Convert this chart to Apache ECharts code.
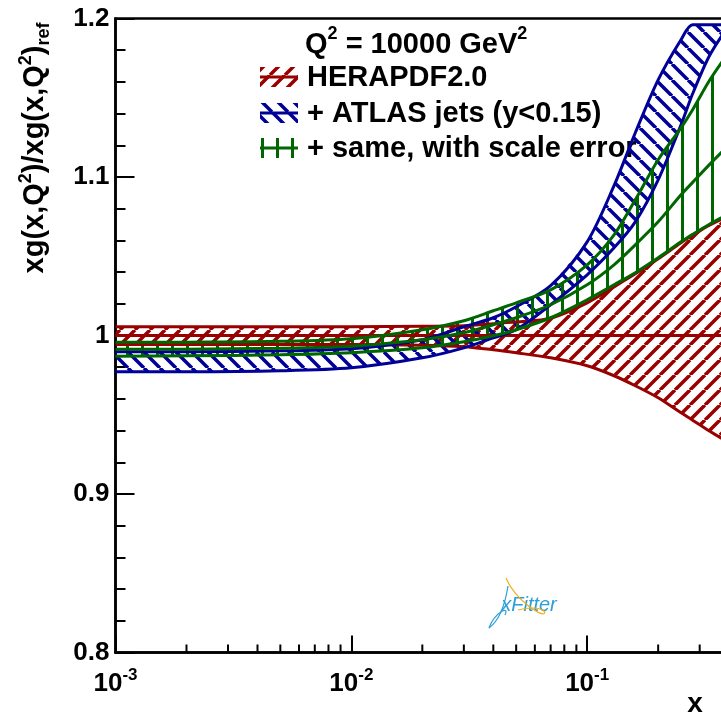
<!DOCTYPE html>
<html><head><meta charset="utf-8">
<script src="https://cdn.jsdelivr.net/npm/echarts@6/dist/echarts.min.js"></script>
<style>html,body{margin:0;padding:0;background:#fff}#c{width:721px;height:713px}</style>
</head><body><div id="c"></div>
<script>
// ---- data ----
const xValues   = [0.001,0.002,0.005,0.01,0.02,0.03,0.04,0.05,0.07,0.1,0.13,0.16,0.2,0.25,0.28,0.33,0.4];
const heraUpper = [1.0055,1.0055,1.0055,1.0055,1.0058,1.0061,1.0074,1.0086,1.0109,1.0206,1.0307,1.0389,1.0484,1.0585,1.0632,1.0696,1.0755];
const heraLower = [0.9944,0.9944,0.9944,0.9943,0.9938,0.9929,0.9910,0.9891,0.9859,0.9809,0.9746,0.9683,0.9607,0.9512,0.9466,0.9397,0.9323];
const heraCentral = [1,1,1,1,1,1,1,1,1,1,1,1,1,1,1,1,1];
const atlasUpper = [0.9897,0.9897,0.9903,0.9916,0.9973,1.0055,1.0112,1.0181,1.0314,1.0591,1.0945,1.1279,1.1613,1.1866,1.196,1.196,1.196];
const atlasLower = [0.9771,0.9771,0.9777,0.9796,0.9859,0.9922,0.9985,1.0036,1.0194,1.0383,1.0553,1.0717,1.0982,1.1329,1.1525,1.1765,1.1960];
const scaleUpper = [0.9957,0.9958,0.9963,0.9979,1.0036,1.0093,1.0156,1.0206,1.0288,1.0446,1.0635,1.0856,1.1109,1.1310,1.1424,1.1609,1.1790];
const scaleMiddle = [0.9913,0.9914,0.9919,0.9932,0.9973,1.0017,1.0068,1.0112,1.0194,1.0320,1.0446,1.0572,1.0717,1.0888,1.0966,1.1078,1.1203];
const scaleLower = [0.9869,0.9872,0.9878,0.9891,0.9922,0.9960,0.9998,1.0036,1.0112,1.0225,1.0320,1.0396,1.0490,1.0591,1.0638,1.0702,1.0768];
const xMinorTicks = [0.002,0.003,0.004,0.005,0.006,0.007,0.008,0.009,0.02,0.03,0.04,0.05,0.06,0.07,0.08,0.09,0.2,0.3,0.4,0.5,0.6,0.7,0.8,0.9];
const yTickLabels = {'0.8':'0.8','0.9':'0.9','1':'1','1.1':'1.1','1.2':'1.2'};
const legendNames = ['HERAPDF2.0', '+ ATLAS jets (y<0.15)', '+ same, with scale error'];

const RED = '#990000', BLUE = '#000099', GREEN = '#006600';
const FONT = '"Liberation Sans", Arial, Helvetica, sans-serif';

function hatch(color, kind, s, w) {
  const c = document.createElement('canvas');
  c.width = s; c.height = s;
  const g = c.getContext('2d');
  g.strokeStyle = color; g.lineWidth = w;
  g.beginPath();
  if (kind === '|') { g.moveTo(s / 2, 0); g.lineTo(s / 2, s); }
  else {
    for (let k = -1; k <= 1; k++) {
      if (kind === '/') { g.moveTo(k * s, s); g.lineTo(k * s + s, 0); }
      else { g.moveTo(k * s, 0); g.lineTo(k * s + s, s); }
    }
  }
  g.stroke();
  return { image: c, repeat: 'repeat' };
}
const patRed = hatch(RED, '/', 15, 3.5);
const patBlue = hatch(BLUE, '\\', 16, 3.5);
const patGreen = hatch(GREEN, '|', 15, 3);

function bandFill(lower, upper, pattern) {
  return {
    type: 'custom', silent: true, clip: true,
    data: xValues.map((x, i) => [x, lower[i], upper[i]]),
    encode: { x: 0, y: [1, 2] },
    renderItem: (params, api) => {
      if (params.dataIndex !== 0) return null;
      const pts = [];
      for (let i = 0; i < xValues.length; i++) pts.push(api.coord([xValues[i], upper[i]]));
      for (let i = xValues.length - 1; i >= 0; i--) pts.push(api.coord([xValues[i], lower[i]]));
      return { type: 'polygon', shape: { points: pts }, style: { fill: pattern, stroke: null } };
    }
  };
}
function edge(values, color) {
  return { type: 'line', data: xValues.map((x, i) => [x, values[i]]), symbol: 'none', smooth: 0.3,
           lineStyle: { color, width: 3 }, silent: true };
}

const series = [
  bandFill(heraLower, heraUpper, patRed),
  edge(heraLower, RED), edge(heraUpper, RED), edge(heraCentral, RED),
  bandFill(atlasLower, atlasUpper, patBlue),
  edge(atlasLower, BLUE), edge(atlasUpper, BLUE),
  bandFill(scaleLower, scaleUpper, patGreen),
  edge(scaleLower, GREEN), edge(scaleUpper, GREEN), edge(scaleMiddle, GREEN),
  { type: 'custom', silent: true, clip: false, z: 10,
    data: xMinorTicks.map(v => [v, 0.8]),
    renderItem: (params, api) => {
      const p = api.coord([api.value(0), api.value(1)]);
      return { type: 'line', shape: { x1: p[0], y1: p[1], x2: p[0], y2: p[1] - 8 },
               style: { stroke: '#000', lineWidth: 2 } };
    } }
];

const supRich = {
  b: { fontSize: 26, fontWeight: 'bold', fontFamily: FONT, color: '#000', fill: '#000', verticalAlign: 'bottom', lineHeight: 30 },
  s: { fontSize: 17, fontWeight: 'bold', fontFamily: FONT, color: '#000', fill: '#000', verticalAlign: 'top', lineHeight: 30 }
};
const LEG_FS = 29;
function legendRow(y, pattern, color, label) {
  return [
    { type: 'rect', shape: { x: 260, y: y - 10, width: 38, height: 20 }, style: { fill: pattern, stroke: null }, z: 100 },
    { type: 'line', shape: { x1: 260, y1: y, x2: 298, y2: y }, style: { stroke: color, lineWidth: 3 }, z: 101 },
    { type: 'text', x: 307, y: y + 1, z: 0,
      style: { text: label, font: 'bold ' + LEG_FS + 'px ' + FONT, fill: '#000', align: 'left', verticalAlign: 'middle',
               textAlign: 'left', textVerticalAlign: 'middle' } }
  ];
}
const legRich = {
  b: { fontSize: LEG_FS, fontWeight: 'bold', fontFamily: FONT, fill: '#000', color: '#000', verticalAlign: 'bottom', lineHeight: 34 },
  s: { fontSize: 18, fontWeight: 'bold', fontFamily: FONT, fill: '#000', color: '#000', verticalAlign: 'top', lineHeight: 34 }
};
const yTitleRich = {
  b: { fontSize: 29, fontWeight: 'bold', fontFamily: FONT, fill: '#000', color: '#000', verticalAlign: 'middle', lineHeight: 36 },
  s: { fontSize: 18, fontWeight: 'bold', fontFamily: FONT, fill: '#000', color: '#000', verticalAlign: 'top', lineHeight: 36 },
  r: { fontSize: 18, fontWeight: 'bold', fontFamily: FONT, fill: '#000', color: '#000', verticalAlign: 'bottom', lineHeight: 36 }
};

const chart = echarts.init(document.getElementById('c'), null, { renderer: 'canvas' });
chart.setOption({
  animation: false,
  backgroundColor: '#fff',
  grid: { left: 115.5, right: -102, top: 18.5, bottom: 60.5, show: true, borderColor: '#000', borderWidth: 2.5,
          backgroundColor: 'transparent', containLabel: false, outerBoundsMode: 'none' },
  xAxis: {
    type: 'log', logBase: 10, min: 0.001, max: 1,
    axisLine: { show: true, lineStyle: { color: '#000', width: 2.5 } },
    axisTick: { show: true, inside: true, length: 17, lineStyle: { color: '#000', width: 2 } },
    minorTick: { show: false },
    splitLine: { show: false },
    axisLabel: { margin: 14, formatter: v => '{b|10}{s|' + Math.round(Math.log10(v)) + '}', rich: supRich }
  },
  yAxis: {
    type: 'value', min: 0.8, max: 1.2, interval: 0.1,
    axisLine: { show: true, lineStyle: { color: '#000', width: 2.5 } },
    axisTick: { show: true, inside: true, length: 19, lineStyle: { color: '#000', width: 2 } },
    minorTick: { show: true, splitNumber: 5, length: 10, lineStyle: { color: '#000', width: 2 } },
    splitLine: { show: false },
    axisLabel: { margin: 6, fontSize: 26, fontWeight: 'bold', fontFamily: FONT, color: '#000',
      formatter: v => yTickLabels[String(Math.round(v * 10) / 10)] }
  },
  series,
  graphic: [
    { type: 'text', x: 35, y: 148, rotation: Math.PI / 2, z: 100,
      style: { text: '{b|xg(x,Q}{s|2}{b|)/xg(x,Q}{s|2}{b|)}{r|ref}', rich: yTitleRich,
               align: 'center', verticalAlign: 'middle', textAlign: 'center', textVerticalAlign: 'middle' } },
    { type: 'text', x: 695, y: 704, z: 100,
      style: { text: 'x', font: 'bold 28px ' + FONT, fill: '#000', align: 'center', verticalAlign: 'middle',
               textAlign: 'center', textVerticalAlign: 'middle' } },
    { type: 'text', x: 305, y: 42, z: 0,
      style: { text: '{b|Q}{s|2}{b| = 10000 GeV}{s|2}', rich: legRich, align: 'left', verticalAlign: 'middle',
               textAlign: 'left', textVerticalAlign: 'middle' } },
    ...legendRow(77, patRed, RED, legendNames[0]),
    ...legendRow(113, patBlue, BLUE, legendNames[1]),
    ...legendRow(148, patGreen, GREEN, legendNames[2]),
    { type: 'text', x: 529, y: 605, z: 100,
      style: { text: 'xFitter', font: 'italic 20px ' + FONT, fill: '#2a9fd8', align: 'center', verticalAlign: 'middle',
               textAlign: 'center', textVerticalAlign: 'middle' } },
    { type: 'bezierCurve', z: 100, shape: { x1: 508, y1: 586, cpx1: 505, cpy1: 605, cpx2: 500, cpy2: 620, x2: 489, y2: 628 },
      style: { stroke: '#2a9fd8', lineWidth: 1.2, fill: null } },
    { type: 'bezierCurve', z: 100, shape: { x1: 489, y1: 628, cpx1: 495, cpy1: 612, cpx2: 510, cpy2: 605, x2: 505, y2: 615 },
      style: { stroke: '#2a9fd8', lineWidth: 1.2, fill: null } },
    { type: 'bezierCurve', z: 100, shape: { x1: 506, y1: 578, cpx1: 515, cpy1: 600, cpx2: 545, cpy2: 620, x2: 545, y2: 612 },
      style: { stroke: '#f0b020', lineWidth: 1.2, fill: null } },
    { type: 'bezierCurve', z: 100, shape: { x1: 545, y1: 612, cpx1: 540, cpy1: 606, cpx2: 525, cpy2: 608, x2: 518, y2: 610 },
      style: { stroke: '#f0b020', lineWidth: 1.2, fill: null } }
  ]
});
</script></body></html>
